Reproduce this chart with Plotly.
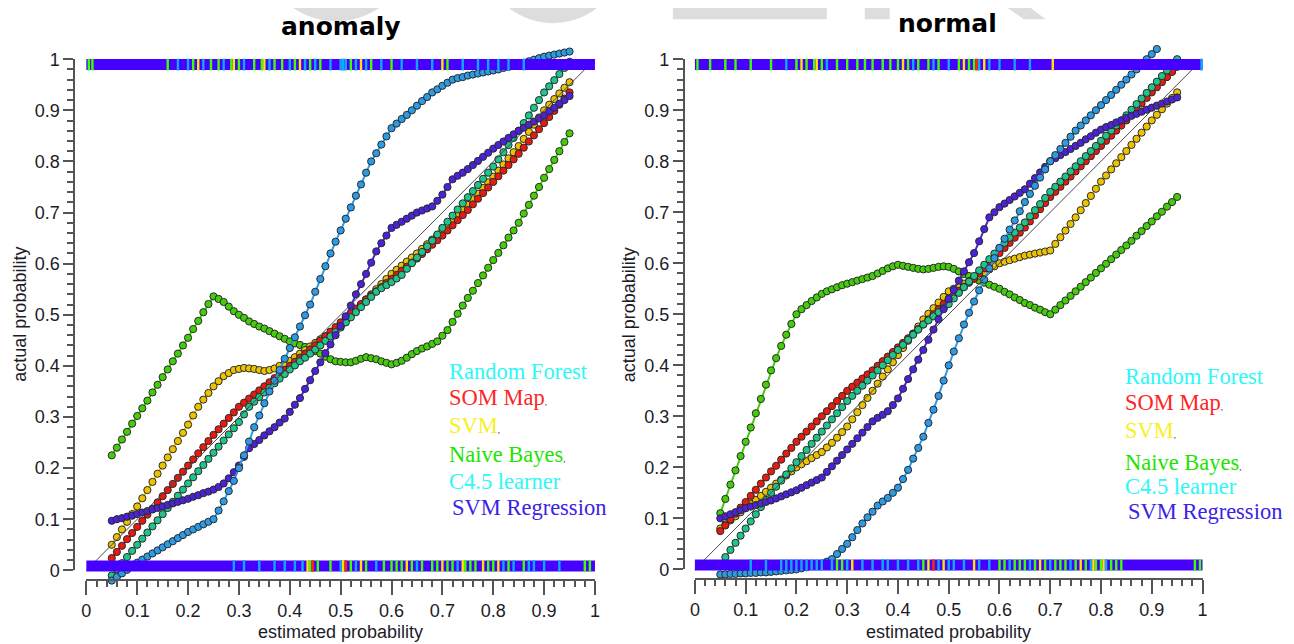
import plotly.graph_objects as go

# ---------------- data ----------------
X = [0.05, 0.06, 0.07, 0.08, 0.09, 0.10, 0.11, 0.12, 0.13, 0.14,
     0.15, 0.16, 0.17, 0.18, 0.19, 0.20, 0.21, 0.22, 0.23, 0.24,
     0.25, 0.26, 0.27, 0.28, 0.29, 0.30, 0.31, 0.32, 0.33, 0.34,
     0.35, 0.36, 0.37, 0.38, 0.39, 0.40, 0.41, 0.42, 0.43, 0.44,
     0.45, 0.46, 0.47, 0.48, 0.49, 0.50, 0.51, 0.52, 0.53, 0.54,
     0.55, 0.56, 0.57, 0.58, 0.59, 0.60, 0.61, 0.62, 0.63, 0.64,
     0.65, 0.66, 0.67, 0.68, 0.69, 0.70, 0.71, 0.72, 0.73, 0.74,
     0.75, 0.76, 0.77, 0.78, 0.79, 0.80, 0.81, 0.82, 0.83, 0.84,
     0.85, 0.86, 0.87, 0.88, 0.89, 0.90, 0.91, 0.92, 0.93, 0.94, 0.95]

# anomaly panel
A_RF = [-0.020, -0.013, -0.006, 0.001, 0.008, 0.015, 0.021, 0.027, 0.033, 0.039,
        0.045, 0.051, 0.057, 0.063, 0.069, 0.075, 0.080, 0.085, 0.090, 0.095,
        0.100, 0.117, 0.135, 0.155, 0.175, 0.200, 0.225, 0.252, 0.280, 0.303,
        0.327, 0.350, 0.371, 0.392, 0.414, 0.435, 0.456, 0.477, 0.499, 0.520,
        0.545, 0.570, 0.595, 0.620, 0.643, 0.665, 0.688, 0.710, 0.733, 0.755,
        0.778, 0.800, 0.816, 0.833, 0.849, 0.865, 0.874, 0.883, 0.891, 0.900,
        0.909, 0.918, 0.926, 0.935, 0.941, 0.948, 0.954, 0.960, 0.963, 0.965,
        0.968, 0.970, 0.972, 0.974, 0.976, 0.978, 0.980, 0.983, 0.985, 0.988,
        0.990, 0.993, 0.996, 0.999, 1.002, 1.005, 1.007, 1.009, 1.011, 1.013, 1.015]
A_SOM = [0.024, 0.036, 0.048, 0.061, 0.073, 0.085, 0.097, 0.109, 0.121, 0.133,
         0.145, 0.157, 0.169, 0.181, 0.193, 0.205, 0.217, 0.229, 0.241, 0.253,
         0.265, 0.276, 0.287, 0.298, 0.309, 0.320, 0.328, 0.336, 0.344, 0.352,
         0.360, 0.368, 0.376, 0.384, 0.392, 0.400, 0.408, 0.416, 0.424, 0.432,
         0.440, 0.449, 0.458, 0.467, 0.476, 0.485, 0.494, 0.503, 0.512, 0.521,
         0.530, 0.538, 0.546, 0.554, 0.562, 0.570, 0.578, 0.586, 0.594, 0.602,
         0.610, 0.619, 0.628, 0.637, 0.646, 0.655, 0.665, 0.675, 0.685, 0.695,
         0.705, 0.716, 0.727, 0.738, 0.749, 0.760, 0.771, 0.782, 0.793, 0.804,
         0.815, 0.827, 0.839, 0.851, 0.863, 0.875, 0.887, 0.899, 0.911, 0.923, 0.935]
A_SVM = [0.050, 0.065, 0.080, 0.095, 0.110, 0.125, 0.141, 0.157, 0.173, 0.189,
         0.205, 0.221, 0.237, 0.253, 0.269, 0.285, 0.303, 0.320, 0.334, 0.347,
         0.360, 0.370, 0.380, 0.386, 0.392, 0.394, 0.396, 0.395, 0.394, 0.392,
         0.390, 0.392, 0.395, 0.400, 0.405, 0.410, 0.417, 0.424, 0.431, 0.438,
         0.445, 0.452, 0.458, 0.465, 0.471, 0.478, 0.488, 0.499, 0.509, 0.520,
         0.530, 0.540, 0.550, 0.560, 0.570, 0.580, 0.588, 0.596, 0.604, 0.612,
         0.620, 0.629, 0.638, 0.647, 0.656, 0.665, 0.675, 0.685, 0.695, 0.705,
         0.715, 0.726, 0.737, 0.748, 0.759, 0.770, 0.782, 0.794, 0.806, 0.818,
         0.830, 0.844, 0.858, 0.872, 0.886, 0.900, 0.911, 0.922, 0.933, 0.944, 0.955]
A_NB = [0.225, 0.240, 0.256, 0.271, 0.287, 0.302, 0.317, 0.332, 0.348, 0.363,
        0.378, 0.393, 0.409, 0.424, 0.440, 0.455, 0.472, 0.488, 0.505, 0.521,
        0.536, 0.531, 0.525, 0.516, 0.507, 0.500, 0.494, 0.487, 0.482, 0.477,
        0.473, 0.468, 0.463, 0.458, 0.453, 0.448, 0.444, 0.441, 0.437, 0.433,
        0.429, 0.424, 0.418, 0.413, 0.409, 0.408, 0.407, 0.407, 0.410, 0.414,
        0.417, 0.415, 0.413, 0.409, 0.406, 0.403, 0.406, 0.410, 0.416, 0.423,
        0.429, 0.434, 0.438, 0.443, 0.448, 0.459, 0.470, 0.486, 0.502, 0.518,
        0.533, 0.547, 0.562, 0.577, 0.592, 0.607, 0.621, 0.636, 0.651, 0.665,
        0.680, 0.698, 0.715, 0.733, 0.750, 0.768, 0.785, 0.803, 0.820, 0.838, 0.855]
A_C45 = [-0.010, 0.002, 0.014, 0.026, 0.038, 0.050, 0.062, 0.074, 0.086, 0.098,
         0.110, 0.122, 0.134, 0.146, 0.158, 0.170, 0.182, 0.194, 0.206, 0.218,
         0.230, 0.242, 0.254, 0.266, 0.278, 0.290, 0.305, 0.320, 0.330, 0.339,
         0.348, 0.357, 0.366, 0.375, 0.384, 0.393, 0.401, 0.409, 0.416, 0.424,
         0.432, 0.440, 0.449, 0.458, 0.466, 0.475, 0.485, 0.495, 0.505, 0.515,
         0.525, 0.535, 0.545, 0.552, 0.558, 0.564, 0.571, 0.578, 0.590, 0.601,
         0.612, 0.623, 0.634, 0.645, 0.657, 0.670, 0.682, 0.694, 0.706, 0.718,
         0.730, 0.742, 0.754, 0.766, 0.778, 0.790, 0.804, 0.818, 0.832, 0.846,
         0.860, 0.875, 0.890, 0.905, 0.920, 0.935, 0.947, 0.959, 0.971, 0.983, 0.995]
A_SVR = [0.097, 0.100, 0.102, 0.105, 0.107, 0.110, 0.113, 0.116, 0.119, 0.122,
         0.125, 0.128, 0.131, 0.134, 0.137, 0.140, 0.144, 0.147, 0.151, 0.154,
         0.158, 0.163, 0.170, 0.180, 0.192, 0.205, 0.222, 0.239, 0.247, 0.255,
         0.264, 0.272, 0.280, 0.289, 0.297, 0.310, 0.324, 0.337, 0.355, 0.372,
         0.390, 0.407, 0.425, 0.442, 0.460, 0.478, 0.497, 0.518, 0.540, 0.560,
         0.580, 0.602, 0.624, 0.640, 0.655, 0.670, 0.676, 0.682, 0.688, 0.694,
         0.700, 0.704, 0.708, 0.712, 0.723, 0.735, 0.750, 0.765, 0.772, 0.778,
         0.785, 0.793, 0.801, 0.809, 0.817, 0.825, 0.832, 0.839, 0.846, 0.853,
         0.860, 0.866, 0.872, 0.878, 0.884, 0.890, 0.898, 0.905, 0.913, 0.920, 0.928]

# normal panel
N_RF = [-0.010, -0.010, -0.009, -0.009, -0.008, -0.008, -0.007, -0.007, -0.006, -0.006,
        -0.005, -0.004, -0.003, -0.002, -0.001, 0.000, 0.002, 0.004, 0.006, 0.008,
        0.011, 0.015, 0.020, 0.030, 0.040, 0.050, 0.063, 0.077, 0.090, 0.102,
        0.113, 0.125, 0.133, 0.140, 0.150, 0.160, 0.177, 0.195, 0.217, 0.238,
        0.260, 0.287, 0.313, 0.340, 0.370, 0.400, 0.427, 0.453, 0.480, 0.503,
        0.525, 0.547, 0.568, 0.590, 0.610, 0.630, 0.648, 0.666, 0.684, 0.702,
        0.720, 0.736, 0.752, 0.768, 0.784, 0.800, 0.812, 0.824, 0.836, 0.848,
        0.860, 0.870, 0.880, 0.890, 0.900, 0.910, 0.920, 0.930, 0.940, 0.950,
        0.960, 0.970, 0.980, 0.990, 1.000, 1.010, 1.020]
N_SOM = [0.075, 0.086, 0.098, 0.109, 0.121, 0.132, 0.144, 0.156, 0.168, 0.180,
         0.192, 0.203, 0.215, 0.227, 0.238, 0.250, 0.260, 0.270, 0.280, 0.290,
         0.300, 0.310, 0.320, 0.330, 0.340, 0.350, 0.358, 0.366, 0.374, 0.382,
         0.390, 0.399, 0.408, 0.417, 0.426, 0.435, 0.444, 0.453, 0.462, 0.471,
         0.480, 0.490, 0.500, 0.510, 0.520, 0.530, 0.538, 0.546, 0.554, 0.562,
         0.570, 0.580, 0.590, 0.600, 0.610, 0.620, 0.630, 0.640, 0.650, 0.660,
         0.670, 0.682, 0.694, 0.706, 0.718, 0.730, 0.740, 0.750, 0.760, 0.770,
         0.780, 0.790, 0.800, 0.810, 0.820, 0.830, 0.840, 0.850, 0.860, 0.870,
         0.880, 0.891, 0.902, 0.913, 0.924, 0.935, 0.945, 0.955, 0.965, 0.975, 0.985]
N_SVM = [0.080, 0.088, 0.096, 0.104, 0.112, 0.120, 0.128, 0.136, 0.144, 0.152,
         0.160, 0.168, 0.176, 0.184, 0.192, 0.200, 0.206, 0.212, 0.218, 0.224,
         0.230, 0.239, 0.248, 0.258, 0.269, 0.280, 0.294, 0.308, 0.322, 0.336,
         0.350, 0.364, 0.378, 0.392, 0.406, 0.420, 0.434, 0.448, 0.462, 0.476,
         0.490, 0.501, 0.512, 0.523, 0.534, 0.545, 0.550, 0.555, 0.560, 0.565,
         0.570, 0.576, 0.582, 0.588, 0.594, 0.600, 0.603, 0.606, 0.609, 0.612,
         0.615, 0.617, 0.619, 0.621, 0.623, 0.625, 0.638, 0.651, 0.664, 0.677,
         0.690, 0.704, 0.718, 0.732, 0.746, 0.760, 0.772, 0.784, 0.796, 0.808,
         0.820, 0.832, 0.844, 0.856, 0.868, 0.880, 0.891, 0.902, 0.913, 0.924, 0.935]
N_NB = [0.110, 0.138, 0.166, 0.194, 0.222, 0.250, 0.278, 0.306, 0.334, 0.362,
        0.390, 0.414, 0.438, 0.460, 0.481, 0.500, 0.510, 0.518, 0.526, 0.533,
        0.540, 0.545, 0.549, 0.553, 0.557, 0.560, 0.563, 0.566, 0.569, 0.572,
        0.575, 0.580, 0.585, 0.590, 0.594, 0.597, 0.595, 0.593, 0.591, 0.589,
        0.588, 0.589, 0.591, 0.593, 0.594, 0.593, 0.589, 0.584, 0.579, 0.575,
        0.570, 0.566, 0.562, 0.558, 0.554, 0.550, 0.544, 0.539, 0.533, 0.528,
        0.522, 0.518, 0.513, 0.509, 0.504, 0.500, 0.509, 0.518, 0.527, 0.536,
        0.545, 0.554, 0.563, 0.572, 0.581, 0.590, 0.599, 0.608, 0.617, 0.626,
        0.635, 0.644, 0.654, 0.663, 0.673, 0.682, 0.692, 0.701, 0.711, 0.720, 0.730]
N_C45 = [0.010, 0.024, 0.038, 0.052, 0.066, 0.080, 0.094, 0.108, 0.122, 0.136,
         0.150, 0.162, 0.174, 0.186, 0.198, 0.210, 0.222, 0.234, 0.246, 0.258,
         0.270, 0.282, 0.294, 0.306, 0.318, 0.330, 0.340, 0.350, 0.360, 0.370,
         0.380, 0.390, 0.400, 0.410, 0.420, 0.430, 0.440, 0.450, 0.460, 0.470,
         0.480, 0.488, 0.496, 0.504, 0.512, 0.520, 0.531, 0.542, 0.553, 0.564,
         0.575, 0.586, 0.597, 0.608, 0.619, 0.630, 0.640, 0.650, 0.660, 0.670,
         0.680, 0.692, 0.704, 0.716, 0.728, 0.740, 0.750, 0.760, 0.770, 0.780,
         0.790, 0.800, 0.810, 0.820, 0.830, 0.840, 0.850, 0.860, 0.870, 0.880,
         0.890, 0.901, 0.912, 0.923, 0.934, 0.945, 0.956, 0.967, 0.978, 0.989, 1.000]
N_SVR = [0.100, 0.104, 0.108, 0.112, 0.116, 0.120, 0.123, 0.126, 0.129, 0.132,
         0.135, 0.139, 0.143, 0.147, 0.151, 0.155, 0.160, 0.165, 0.170, 0.175,
         0.180, 0.191, 0.202, 0.213, 0.224, 0.235, 0.246, 0.257, 0.268, 0.279,
         0.290, 0.297, 0.303, 0.310, 0.322, 0.335, 0.354, 0.373, 0.392, 0.411,
         0.430, 0.450, 0.470, 0.490, 0.510, 0.530, 0.548, 0.566, 0.584, 0.602,
         0.620, 0.643, 0.667, 0.690, 0.700, 0.710, 0.717, 0.724, 0.731, 0.738,
         0.745, 0.756, 0.767, 0.778, 0.789, 0.800, 0.806, 0.812, 0.818, 0.824,
         0.830, 0.836, 0.843, 0.849, 0.856, 0.862, 0.867, 0.871, 0.876, 0.880,
         0.885, 0.889, 0.893, 0.897, 0.901, 0.905, 0.909, 0.913, 0.917, 0.921, 0.925]

DIAG = [0.0, 1.0]

# rug (predicted probabilities of individual examples, coloured by learner)
A_TOP = {
    "green": [0.005, 0.012, 0.16, 0.21, 0.245, 0.26, 0.285, 0.30, 0.33, 0.345, 0.37,
              0.385, 0.41, 0.44, 0.46, 0.52, 0.56, 0.60, 0.71],
    "lblue": [0.18, 0.20, 0.23, 0.27, 0.31, 0.36, 0.40, 0.43, 0.45, 0.48, 0.50, 0.505,
              0.51, 0.53, 0.55, 0.58, 0.62, 0.65, 0.68, 0.74, 0.77, 0.79, 0.81, 0.83, 0.86],
    "yellow": [0.22, 0.29, 0.35, 0.42, 0.54, 0.70],
    "red": [],
}
A_BOT = {
    "green": [0.44, 0.455, 0.48, 0.52, 0.55, 0.585, 0.60, 0.61, 0.62, 0.64, 0.66, 0.68,
              0.69, 0.71, 0.72, 0.745, 0.755, 0.765, 0.79, 0.80, 0.83, 0.86, 0.98, 0.99],
    "lblue": [0.29, 0.31, 0.34, 0.37, 0.39, 0.41, 0.425, 0.50, 0.53, 0.57, 0.65, 0.73,
              0.82, 0.84, 0.87, 0.88, 0.90, 0.93],
    "yellow": [0.435, 0.505, 0.54, 0.63, 0.70, 0.74, 0.78, 0.81],
    "red": [0.445, 0.51],
}
N_TOP = {
    "green": [0.005, 0.03, 0.06, 0.08, 0.11, 0.15, 0.20, 0.22, 0.235, 0.25, 0.28, 0.30,
              0.32, 0.335, 0.35, 0.37, 0.385, 0.40, 0.42, 0.44, 0.46, 0.48, 0.52, 0.54, 0.55],
    "lblue": [0.18, 0.26, 0.43, 0.47, 0.50, 0.56, 0.58, 0.60, 0.63, 0.66, 0.998],
    "yellow": [0.21, 0.24, 0.41, 0.53, 0.57, 0.705],
    "red": [0.555],
}
N_BOT = {
    "green": [0.28, 0.29, 0.45, 0.60, 0.61, 0.63, 0.64, 0.65, 0.67, 0.69, 0.71, 0.72,
              0.73, 0.75, 0.77, 0.79, 0.80, 0.82, 0.83, 0.84, 0.985, 0.995],
    "lblue": [0.11, 0.14, 0.17, 0.18, 0.19, 0.20, 0.21, 0.22, 0.23, 0.24, 0.25, 0.27,
              0.30, 0.33, 0.35, 0.37, 0.38, 0.40, 0.42, 0.44, 0.48, 0.50, 0.51, 0.53,
              0.56, 0.58, 0.62, 0.66, 0.70, 0.74, 0.78, 0.81],
    "yellow": [0.31, 0.46, 0.49, 0.55, 0.68, 0.76, 0.785, 0.805],
    "red": [0.47],
}

LEARNERS = ["Random Forest", "SOM Map", "SVM", "Naive Bayes", "C4.5 learner", "SVM Regression"]
PANELS = ["anomaly", "normal"]

# ---------------- styling ----------------
W, H = 1294, 644
COL = {
    "Random Forest": "#2d9be4",
    "SOM Map": "#e81a10",
    "SVM": "#ecc300",
    "Naive Bayes": "#45cc0c",
    "C4.5 learner": "#1fc48a",
    "SVM Regression": "#4b22d8",
}
LEG_COL = {
    "Random Forest": "#2ef7f7",
    "SOM Map": "#ff2424",
    "SVM": "#f8f020",
    "Naive Bayes": "#22e400",
    "C4.5 learner": "#2ef7f7",
    "SVM Regression": "#3a22e6",
}
RUG_BASE = "#4600ff"
RUG_COL = {"green": "#40ff00", "lblue": "#10a8ff", "yellow": "#ffe600", "red": "#ff2a00"}
AX = "#555555"
TXT = "#1c1c28"
WM = "#dddddd"

# calibration from target-picture pixels to figure pixels (page is photographed slightly scaled)
CAX, CBX = 0.993, 12.6
CAY, CBY = 0.9687, 16.8


def fx(px):
    return ((px - CBX) / CAX) / W


def fy(py):
    return 1 - ((py - CBY) / CAY) / H


# pixel geometry of each panel in the target picture
GEO = [
    dict(x0=86, sx=509, y0=569, sy=511, xline=579, yline=74),
    dict(x0=695, sx=508, y0=568, sy=510, xline=578, yline=684),
]
XR = [-0.05, 1.05]
YR = [-0.05, 1.07]

fig = go.Figure()
series = {
    "anomaly": {"Random Forest": (X, A_RF), "SOM Map": (X, A_SOM), "SVM": (X, A_SVM),
                "Naive Bayes": (X, A_NB), "C4.5 learner": (X, A_C45), "SVM Regression": (X, A_SVR)},
    "normal": {"Random Forest": (X[:len(N_RF)], N_RF), "SOM Map": (X, N_SOM), "SVM": (X, N_SVM),
               "Naive Bayes": (X, N_NB), "C4.5 learner": (X, N_C45), "SVM Regression": (X, N_SVR)},
}
rugs = {"anomaly": (A_TOP, A_BOT), "normal": (N_TOP, N_BOT)}
draw_order = ["Naive Bayes", "SVM", "SOM Map", "C4.5 learner", "SVM Regression", "Random Forest"]

for i, panel in enumerate(PANELS):
    xa = "x" if i == 0 else "x2"
    ya = "y" if i == 0 else "y2"
    for name in draw_order:
        xs, ys = series[panel][name]
        fig.add_trace(go.Scatter(
            x=xs, y=ys, mode="lines+markers", xaxis=xa, yaxis=ya, showlegend=False,
            line=dict(color=COL[name], width=2),
            marker=dict(size=7.2, color=COL[name], line=dict(color="#2a2a2a", width=1)),
            hoverinfo="skip"))
    fig.add_trace(go.Scatter(x=DIAG, y=DIAG, mode="lines", xaxis=xa, yaxis=ya,
                             line=dict(color="#4a4a4a", width=1), showlegend=False, hoverinfo="skip"))
    top, bot = rugs[panel]
    for (rug, ylo, yhi) in [(top, 0.979, 1.0), (bot, -0.002, 0.019)]:
        ymid = (ylo + yhi) / 2
        fig.add_trace(go.Scatter(x=[0, 1], y=[ymid, ymid], mode="lines", xaxis=xa, yaxis=ya,
                                 line=dict(color=RUG_BASE, width=11), showlegend=False, hoverinfo="skip"))
        for cname, pos in rug.items():
            if not pos:
                continue
            xs, ys = [], []
            for p in pos:
                xs += [p, p, None]
                ys += [ylo - 0.001, yhi + 0.001, None]
            fig.add_trace(go.Scatter(x=xs, y=ys, mode="lines", xaxis=xa, yaxis=ya,
                                     line=dict(color=RUG_COL[cname], width=2.4),
                                     showlegend=False, hoverinfo="skip"))
    # empty traces to create the visible axis subplots
    fig.add_trace(go.Scatter(x=[], y=[], xaxis="x%d" % (3 + 2 * i), yaxis="y%d" % (3 + 2 * i),
                             showlegend=False))

layout = dict(width=W, height=H, margin=dict(l=0, r=0, t=0, b=0),
              paper_bgcolor="white", plot_bgcolor="rgba(0,0,0,0)", showlegend=False)

tickfont = dict(family="Liberation Sans, Arial, sans-serif", size=18, color=TXT)
for i, g in enumerate(GEO):
    sx, sy = g["sx"], g["sy"]
    dname_x = "xaxis" if i == 0 else "xaxis2"
    dname_y = "yaxis" if i == 0 else "yaxis2"
    layout[dname_x] = dict(domain=[fx(g["x0"] + XR[0] * sx), fx(g["x0"] + XR[1] * sx)],
                           range=XR, visible=False, anchor="y" if i == 0 else "y2")
    layout[dname_y] = dict(domain=[fy(g["y0"] - YR[0] * sy), fy(g["y0"] - YR[1] * sy)],
                           range=YR, visible=False, anchor="x" if i == 0 else "x2")
    vx = "xaxis%d" % (3 + 2 * i)
    vy = "yaxis%d" % (3 + 2 * i)
    layout[vx] = dict(domain=[fx(g["x0"]), fx(g["x0"] + sx)], range=[0, 1], anchor="free",
                      position=fy(g["xline"]), showline=True, linecolor=AX, linewidth=2,
                      ticks="outside", ticklen=14, tickwidth=2, tickcolor=AX,
                      tick0=0, dtick=0.1, showgrid=False, zeroline=False, tickfont=tickfont,
                      minor=dict(ticks="outside", ticklen=6, tickwidth=2, tickcolor=AX,
                                 tick0=0, dtick=0.02, showgrid=False))
    layout[vy] = dict(domain=[fy(g["y0"]), fy(g["y0"] - sy)], range=[0, 1], anchor="free",
                      position=fx(g["yline"]), showline=True, linecolor=AX, linewidth=2,
                      ticks="outside", ticklen=10, tickwidth=2, tickcolor=AX,
                      tick0=0, dtick=0.1, showgrid=False, zeroline=False, tickfont=tickfont,
                      minor=dict(ticks="outside", ticklen=6, tickwidth=2, tickcolor=AX,
                                 tick0=0, dtick=0.02, showgrid=False))

# faint watermark remnants along the top edge (decoration of the source picture)
shapes = [
    dict(type="circle", xref="paper", yref="paper", layer="below", line=dict(width=0),
         fillcolor=WM, x0=fx(260), x1=fx(412), y0=fy(20), y1=fy(-132)),
    dict(type="circle", xref="paper", yref="paper", layer="below", line=dict(width=0),
         fillcolor=WM, x0=fx(482), x1=fx(624), y0=fy(22), y1=fy(-120)),
    dict(type="rect", xref="paper", yref="paper", layer="below", line=dict(width=0),
         fillcolor=WM, x0=fx(673), x1=fx(827), y0=fy(18), y1=fy(-20)),
    dict(type="rect", xref="paper", yref="paper", layer="below", line=dict(width=0),
         fillcolor=WM, x0=fx(865), x1=fx(890), y0=fy(18), y1=fy(-20)),
    dict(type="path", xref="paper", yref="paper", layer="below", line=dict(width=0),
         fillcolor=WM,
         path="M %f,%f L %f,%f L %f,%f L %f,%f Z" % (fx(990), fy(-6), fx(1014), fy(-6),
                                                     fx(1046), fy(18), fx(1024), fy(18))),
]

fig.update_layout(**layout)
fig.update_layout(shapes=shapes)

ann = []
title_pos = [(341, 25), (948, 22)]
for (tx, ty), panel in zip(title_pos, PANELS):
    ann.append(dict(x=fx(tx), y=fy(ty), xref="paper", yref="paper", text="<b>%s</b>" % panel,
                    showarrow=False, xanchor="center", yanchor="middle",
                    font=dict(family="DejaVu Sans, Verdana, sans-serif", size=25, color="black")))
axfont = dict(family="Liberation Sans, Arial, sans-serif", size=18, color=TXT)
for (xl, yl) in [((340, 631), (20, 313)), ((949, 631), (629, 313))]:
    ann.append(dict(x=fx(xl[0]), y=fy(xl[1]), xref="paper", yref="paper", text="estimated probability",
                    showarrow=False, xanchor="center", yanchor="middle", font=axfont))
    ann.append(dict(x=fx(yl[0]), y=fy(yl[1]), xref="paper", yref="paper", text="actual probability",
                    showarrow=False, xanchor="center", yanchor="middle", textangle=-90, font=axfont))

leg_pos = [
    (447, [370, 396, 424, 453, 480, 506]),
    (1123, [375, 401, 429, 461, 485, 510]),
]
comma = "<span style='font-size:9px;color:#4a2a10'>,</span>"
suffix = {"Random Forest": "", "SOM Map": comma, "SVM": comma, "Naive Bayes": comma,
          "C4.5 learner": "", "SVM Regression": ""}
for lx, ys in leg_pos:
    for name, yy in zip(LEARNERS, ys):
        dx = 3 if name == "SVM Regression" else 0
        ann.append(dict(x=fx(lx + dx), y=fy(yy), xref="paper", yref="paper",
                        text=name + suffix[name], showarrow=False, xanchor="left", yanchor="middle",
                        font=dict(family="Liberation Serif, Times New Roman, serif", size=22.5,
                                  color=LEG_COL[name])))
fig.update_layout(annotations=ann)

fig.write_html("out.html")
